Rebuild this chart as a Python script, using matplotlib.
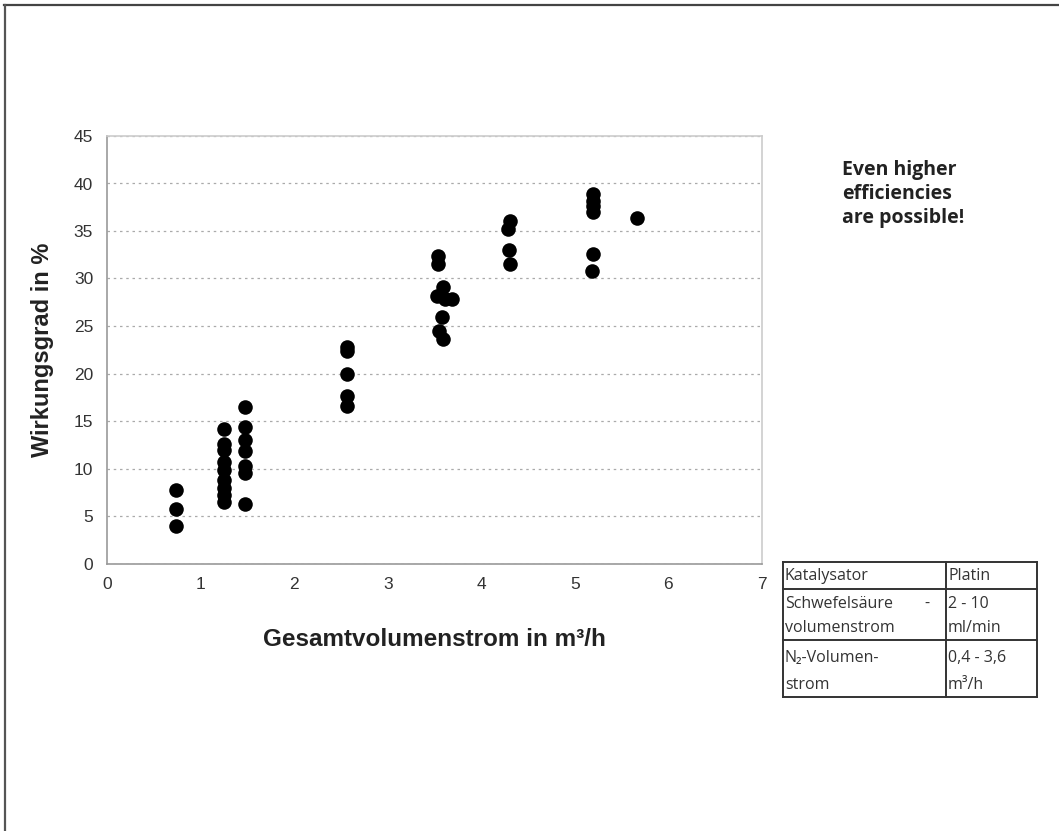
import matplotlib
matplotlib.use("Agg")
import matplotlib.pyplot as plt
from matplotlib.lines import Line2D

# Messpunkte: Gesamtvolumenstrom (m3/h) und Wirkungsgrad (%)
x_075 = [0.74, 0.74, 0.74]
y_075 = [7.7, 5.7, 3.9]

x_125 = [1.25] * 9
y_125 = [14.2, 12.6, 11.9, 10.7, 9.8, 8.8, 7.9, 7.2, 6.5]

x_150 = [1.48] * 7
y_150 = [16.5, 14.4, 13.0, 11.8, 10.3, 9.5, 6.3]

x_257 = [2.57, 2.57, 2.57, 2.57, 2.57]
y_257 = [22.8, 22.4, 19.9, 17.6, 16.6]

x_360 = [3.54, 3.54, 3.59, 3.53, 3.61, 3.69, 3.58, 3.55, 3.59]
y_360 = [32.4, 31.5, 29.1, 28.2, 27.8, 27.8, 25.9, 24.5, 23.6]

x_430 = [4.31, 4.29, 4.30, 4.31]
y_430 = [36.0, 35.2, 33.0, 31.5]

x_520 = [5.19, 5.19, 5.19, 5.19, 5.19, 5.18]
y_520 = [38.9, 38.2, 37.6, 37.0, 32.6, 30.8]

x_566 = [5.66]
y_566 = [36.4]

x_ticks = [0, 1, 2, 3, 4, 5, 6, 7]
y_ticks = [0, 5, 10, 15, 20, 25, 30, 35, 40, 45]

table_rows = [
    (["Katalysator"], ["Platin"]),
    (["Schwefelsäure", "volumenstrom"], ["2 - 10", "ml/min"]),
    (["N₂-Volumen-", "strom"], ["0,4 - 3,6", "m³/h"]),
]

xs = x_075 + x_125 + x_150 + x_257 + x_360 + x_430 + x_520 + x_566
ys = y_075 + y_125 + y_150 + y_257 + y_360 + y_430 + y_520 + y_566

W, H = 1059, 831
fig = plt.figure(figsize=(W / 100, H / 100), dpi=100)
fig.patch.set_facecolor("white")

# Rahmen oben/links
fig.add_artist(Line2D([4 / W, 1], [1 - 5 / H, 1 - 5 / H], color="#444444", lw=1.6))
fig.add_artist(Line2D([4.5 / W, 4.5 / W], [0, 1 - 5 / H], color="#555555", lw=1.6))

ax = fig.add_axes([107 / W, 1 - 563.5 / H, (762 - 107) / W, (563.5 - 136) / H])
ax.scatter(xs, ys, s=110, color="black", zorder=3, linewidths=0)

ax.set_xlim(0, 7)
ax.set_ylim(0, 45)
ax.set_xticks(x_ticks)
ax.set_yticks(y_ticks)
ax.tick_params(length=0, labelsize=12.5, labelcolor="#333333", pad=10)
for lab in ax.get_xticklabels() + ax.get_yticklabels():
    lab.set_family("Liberation Sans")
ax.grid(axis="y", linestyle=(0, (2, 3)), color="#aaaaaa", lw=0.9)
for sp in ax.spines.values():
    sp.set_color("#999999")
    sp.set_linewidth(1.2)
ax.spines["top"].set_color("#cccccc")
ax.spines["right"].set_color("#cccccc")

ax.set_xlabel("Gesamtvolumenstrom in m³/h", fontsize=17.5, fontweight="bold",
              family="Liberation Sans", color="#222222", labelpad=26)
ax.set_ylabel("Wirkungsgrad in %", fontsize=17, fontweight="bold",
              family="Liberation Sans", color="#222222", labelpad=14)

fig.text(842 / W, 1 - 160 / H, "Even higher\nefficiencies\nare possible!",
         fontsize=14, fontweight="bold", family="Open Sans", color="#222222",
         va="top", ha="left", linespacing=1.25)

# Tabelle rechts unten
tx0, tx1, txm = 782.5, 1036.5, 945.5
ty = [561.5, 588.5, 639.5, 696.5]
lc = "#333333"
for yy in ty:
    fig.add_artist(Line2D([tx0 / W, tx1 / W], [1 - yy / H, 1 - yy / H], color=lc, lw=1.4))
for xx in (tx0, txm, tx1):
    fig.add_artist(Line2D([xx / W, xx / W], [1 - ty[0] / H, 1 - ty[-1] / H], color=lc, lw=1.4))

row_lines = [[576], [604, 628], [658, 685]]
tfont = dict(fontsize=11.5, family=["Open Sans", "DejaVu Sans"], color="#333333",
             va="center", ha="left")
for (left, right), ypos in zip(table_rows, row_lines):
    for txt, yy in zip(left, ypos):
        fig.text(785 / W, 1 - yy / H, txt, **tfont)
    for txt, yy in zip(right, ypos):
        fig.text(948 / W, 1 - yy / H, txt, **tfont)
fig.text(924 / W, 1 - 604 / H, "-", **tfont)

fig.savefig("out.png", dpi=100, facecolor="white")
